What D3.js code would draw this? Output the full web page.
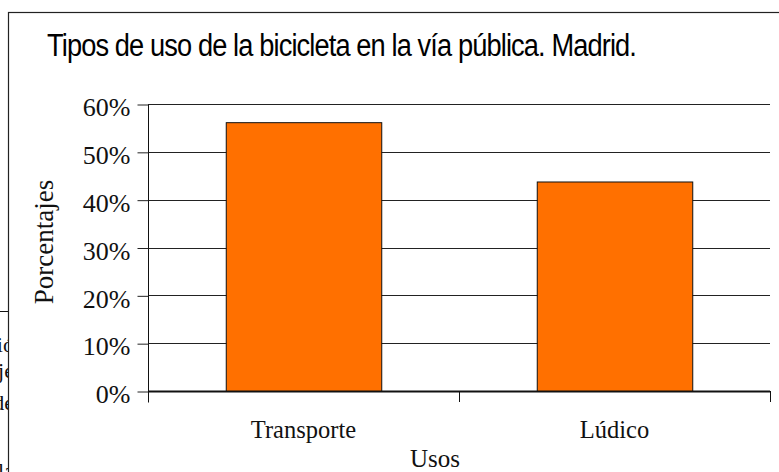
<!DOCTYPE html>
<html>
<head>
<meta charset="utf-8">
<script src="https://cdn.jsdelivr.net/npm/d3@7"></script>
<style>
  body { margin: 0; background: #fff; }
</style>
</head>
<body>
<div id="chart"></div>
<script>
const categories = ['Transporte', 'Lúdico'];
const values = [56.2, 43.8];
const yTicks = [0, 10, 20, 30, 40, 50, 60];
const yTickLabels = ['0%', '10%', '20%', '30%', '40%', '50%', '60%'];
// bits of the page text that sits behind the chart
const behindText = ['ació', 'aje', 'de', 'la'];

const width = 779;
const height = 472;
const plot = { left: 148, right: 770, top: 104, bottom: 391 };

const svg = d3.select('#chart')
  .append('svg')
  .attr('width', width)
  .attr('height', height);

// page behind the chart
svg.append('line')
  .attr('x1', 0).attr('x2', 10)
  .attr('y1', 311.5).attr('y2', 311.5)
  .attr('stroke', '#111');

svg.append('g')
  .attr('font-family', '"Liberation Serif", "Times New Roman", serif')
  .attr('font-size', '22px')
  .attr('fill', '#111')
  .attr('text-anchor', 'end')
  .selectAll('text')
  .data(behindText)
  .join('text')
    .attr('x', 14)
    .attr('y', (d, i) => [352, 378, 410, 478][i])
    .text(d => d);

// chart frame
svg.append('rect')
  .attr('x', 8.5).attr('y', 12.5)
  .attr('width', 800).attr('height', 500)
  .attr('fill', '#fff')
  .attr('stroke', '#222')
  .attr('stroke-width', 1.2);

svg.append('text')
  .attr('x', 47)
  .attr('y', 56)
  .attr('font-family', '"Liberation Sans Narrow", "Arial Narrow", "Liberation Sans", Arial, sans-serif')
  .attr('font-size', '31px')
  .attr('letter-spacing', '-1px')
  .attr('fill', '#000')
  .attr('textLength', 589)
  .attr('lengthAdjust', 'spacingAndGlyphs')
  .text('Tipos de uso de la bicicleta en la vía pública. Madrid.');

const x = d3.scaleBand()
  .domain(categories)
  .range([plot.left, plot.right])
  .paddingInner(0.5)
  .paddingOuter(0.25);

const y = d3.scaleLinear()
  .domain([0, 60])
  .range([plot.bottom, plot.top]);

// gridlines
svg.append('g')
  .selectAll('line')
  .data(yTicks.filter(d => d > 0))
  .join('line')
    .attr('x1', plot.left)
    .attr('x2', plot.right)
    .attr('y1', d => Math.round(y(d)) + 0.5)
    .attr('y2', d => Math.round(y(d)) + 0.5)
    .attr('stroke', '#222');

// bars
svg.append('g')
  .selectAll('rect')
  .data(values)
  .join('rect')
    .attr('x', (d, i) => x(categories[i]) + 0.5)
    .attr('y', d => y(d) + 0.5)
    .attr('width', x.bandwidth())
    .attr('height', d => y(0) - y(d))
    .attr('fill', '#ff7000')
    .attr('stroke', '#111')
    .attr('stroke-width', 1);

// y axis
svg.append('g')
  .attr('transform', `translate(${plot.left + 0.5},0.5)`)
  .call(d3.axisLeft(y)
    .tickValues(yTicks)
    .tickFormat((d, i) => yTickLabels[i])
    .tickSize(11)
    .tickSizeOuter(0)
    .tickPadding(7))
  .call(g => g.select('.domain').attr('stroke', '#111')
    .attr('d', `M0,${plot.top}V${plot.bottom + 11}`))
  .call(g => g.selectAll('.tick line').attr('stroke', '#222'))
  .call(g => g.selectAll('.tick text')
    .attr('font-family', '"Liberation Serif", "Times New Roman", serif')
    .attr('font-size', '26px')
    .attr('fill', '#111')
    .attr('dy', '0.43em'));

// baseline
svg.append('line')
  .attr('x1', plot.left).attr('x2', plot.right)
  .attr('y1', y(0) + 0.5).attr('y2', y(0) + 0.5)
  .attr('stroke', '#111')
  .attr('stroke-width', 2);

// category separators on x axis
svg.append('g')
  .selectAll('line')
  .data(categories.map((c, i) => i + 1))
  .join('line')
    .attr('x1', i => plot.left + x.step() * i + 0.5)
    .attr('x2', i => plot.left + x.step() * i + 0.5)
    .attr('y1', plot.bottom)
    .attr('y2', plot.bottom + 11)
    .attr('stroke', '#111');

// category labels
svg.append('g')
  .attr('font-family', '"Liberation Serif", "Times New Roman", serif')
  .attr('font-size', '24.5px')
  .attr('fill', '#111')
  .attr('text-anchor', 'middle')
  .selectAll('text')
  .data(categories)
  .join('text')
    .attr('x', d => x(d) + x.bandwidth() / 2)
    .attr('y', 438)
    .text(d => d);

svg.append('text')
  .attr('x', 435)
  .attr('y', 467)
  .attr('text-anchor', 'middle')
  .attr('font-family', '"Liberation Serif", "Times New Roman", serif')
  .attr('font-size', '25px')
  .attr('fill', '#111')
  .text('Usos');

svg.append('text')
  .attr('transform', 'translate(53,242) rotate(-90)')
  .attr('text-anchor', 'middle')
  .attr('font-family', '"Liberation Serif", "Times New Roman", serif')
  .attr('font-size', '27px')
  .attr('fill', '#111')
  .text('Porcentajes');
</script>
</body>
</html>
